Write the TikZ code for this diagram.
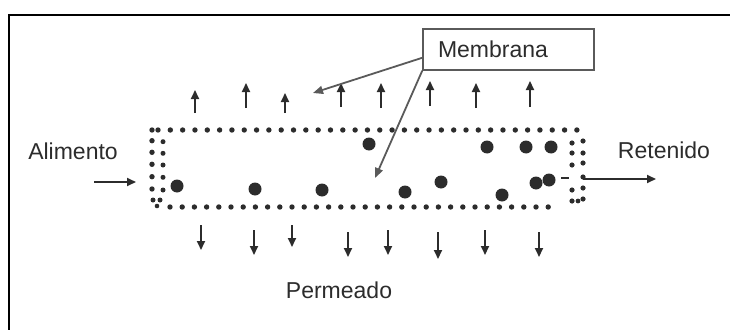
\documentclass[tikz,border=0pt]{standalone}
\usepackage{fontspec}
\setmainfont{Liberation Sans}
\usetikzlibrary{arrows.meta,calc}
\definecolor{ink}{HTML}{2C2C2C}
\definecolor{boxgray}{HTML}{5A5A5A}
\tikzset{
  lbl/.style={inner sep=0pt, font=\fontsize{23}{27}\selectfont, text=ink},
  flow/.style={draw=ink, line width=1.9pt, -{Triangle[length=9pt,width=8pt]}},
  pointer/.style={draw=boxgray, line width=1.8pt, -{Triangle[length=10pt,width=8pt]}},
  mbox/.style={draw=boxgray, line width=1.6pt, minimum width=171pt, minimum height=41pt, inner sep=0pt},
  smalldot/.style={fill=ink, draw=none},
  particle/.style={fill=ink, draw=none}
}
\begin{document}
\begin{tikzpicture}[x=1pt,y=-1pt]
\useasboundingbox (0,0) rectangle (730,329);
% outer frame (only top and left visible)
\draw[black, line width=1.5pt] (9,335) -- (9,15) -- (740,15);

% membrane dotted boundary
\foreach \i in {0,...,34} {\fill[smalldot] ({158+\i*12.32},130) circle (2.7);}
\fill[smalldot] (152,130) circle (2.7);
\foreach \i in {0,...,31} {\fill[smalldot] ({170+\i*12.2},207) circle (2.7);}
\foreach \y in {140.7,152.3,164.3,176.7,189} {\fill[smalldot] (152,\y) circle (2.7);}
\foreach \y in {141.7,153.3,165,177.3,190} {\fill[smalldot] (163,\y) circle (2.5);}
\fill[smalldot] (153,200) circle (2.5);
\fill[smalldot] (160,200) circle (2.5);
\fill[smalldot] (157,206) circle (2.3);
\foreach \y in {143,153,165,190,201} {\fill[smalldot] (572,\y) circle (2.6);}
\foreach \y in {141,153,163,177,188,199} {\fill[smalldot] (583,\y) circle (2.6);}
\fill[smalldot] (578,201) circle (2.4);
\draw[ink, line width=1.6pt] (561,178) -- (569,178);

% particles
\foreach \p in {(177,186),(255,189),(322,190),(369,144),(405,192),(441,182),(487,147),(502,195),(526,147),(551,147),(536,183),(549,180)}
  {\fill[particle] \p circle (6.5);}

% labels
\node[lbl] (alim) at (73,151) {Alimento};
\node[lbl] (ret) at (664,150) {Retenido};
\node[lbl] (perm) at (339,290) {Permeado};
\node[mbox] (mb) at (508.5,49.5) {};
\node[lbl] (mbt) at (493,49) {Membrana};

% feed and retentate arrows
\coordinate (feedA) at (94,182);
\coordinate (feedB) at (136,182);
\draw[flow] (feedA) -- (feedB);
\coordinate (retA) at (583,179);
\coordinate (retB) at (656,179);
\draw[flow] (retA) -- (retB);

% permeate arrows up
\foreach \x/\a/\b in {195/113/90, 246/108/83, 285/113/93, 341/107/83, 381/108/83, 430/106/81, 476/108/83, 530/107/81}
  {\draw[flow] (\x,\a) -- (\x,\b);}
% permeate arrows down
\foreach \x/\a/\b in {201/225/250, 254/230/255, 292/225/247, 348/232/257, 388/230/255, 438/232/259, 485/230/255, 539/232/257}
  {\draw[flow] (\x,\a) -- (\x,\b);}

% membrane pointers
\coordinate (tipA) at (313,93);
\coordinate (tipB) at (375,178);
\draw[pointer] ($(mb.south west)+(0,-13)$) -- (tipA);
\draw[pointer] (mb.south west) -- (tipB);
\end{tikzpicture}
\end{document}
